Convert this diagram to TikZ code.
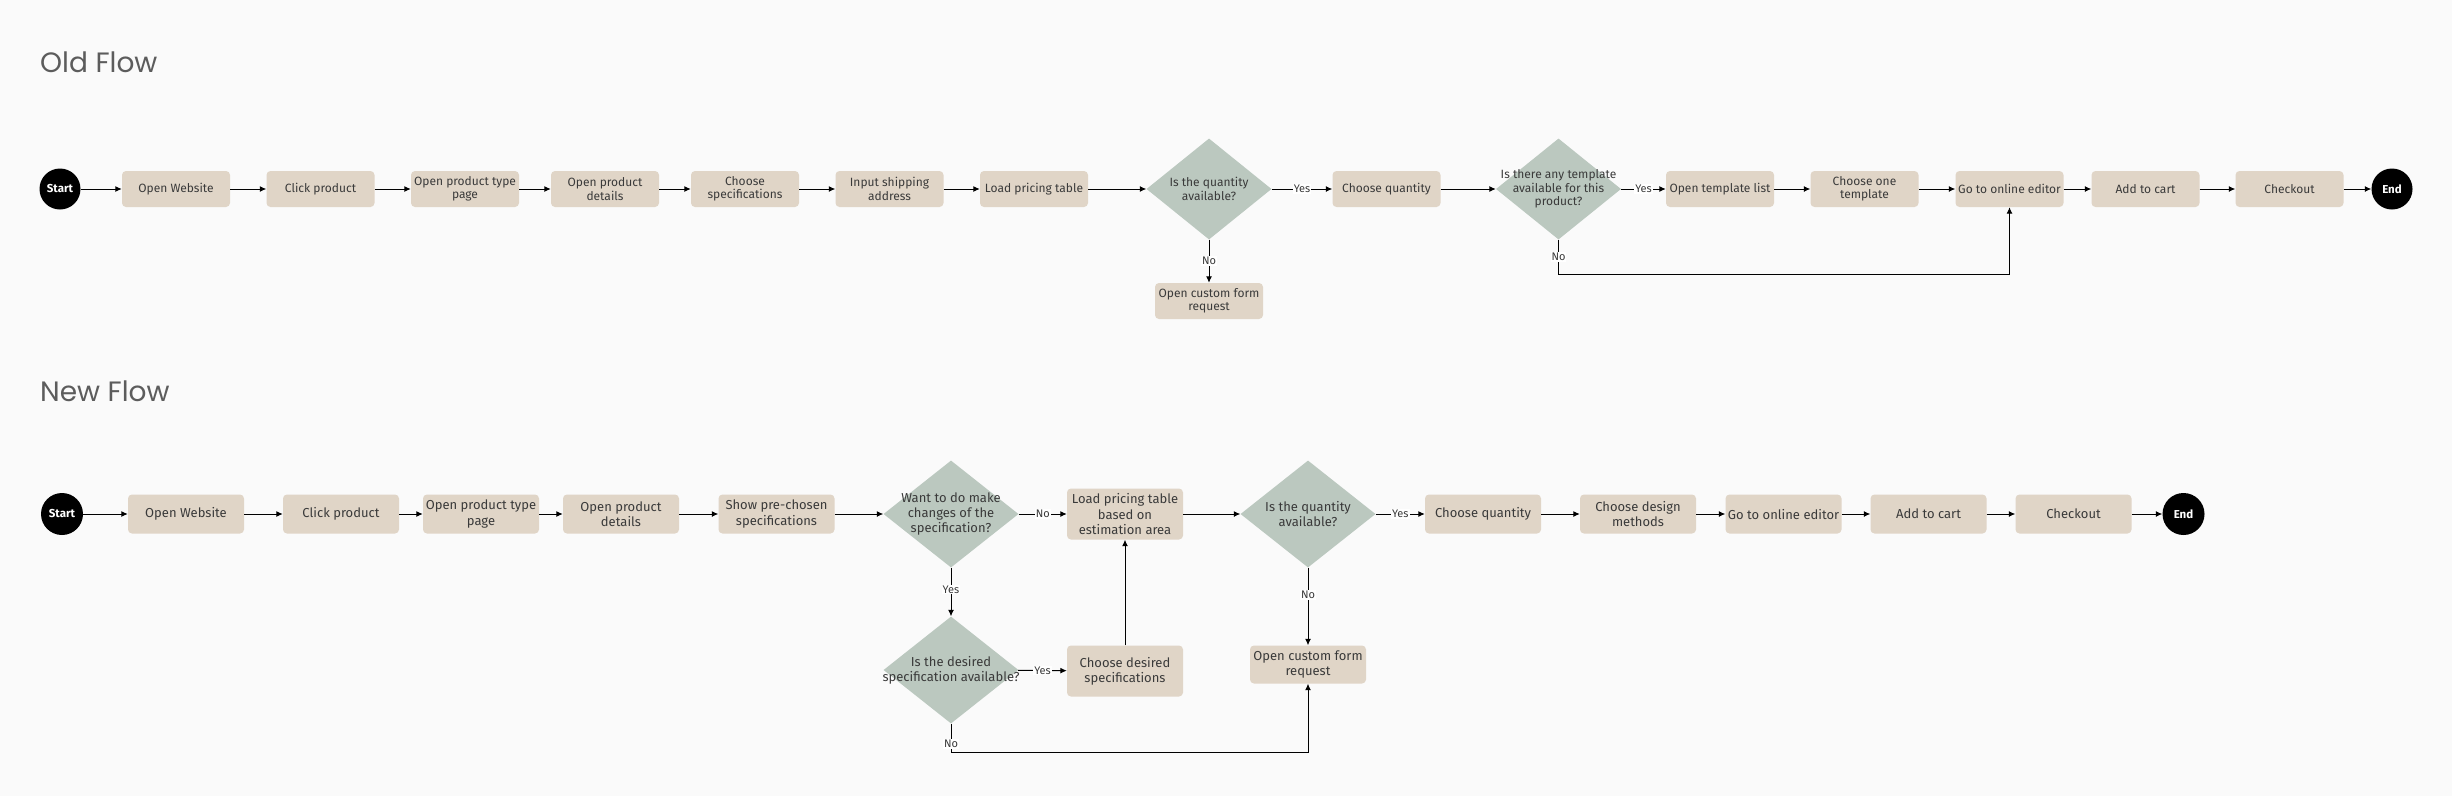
\documentclass[tikz,border=0pt]{standalone}
\usepackage{fontspec}
\setmainfont{Fira Sans}
\newfontfamily\titlefont{Poppins}
\usetikzlibrary{shapes.geometric,arrows.meta}

\definecolor{paper}{HTML}{FAFAFA}
\definecolor{beige}{HTML}{E0D5C7}
\definecolor{sage}{HTML}{BBC8BF}
\definecolor{ink}{HTML}{3A3A3A}
\definecolor{titlegray}{HTML}{5C5C5C}

\tikzset{
	oldstep/.style={rounded corners=4pt, fill=beige, minimum width=108pt, minimum height=36pt, inner sep=0pt, align=center, text=ink, font=\fontsize{12}{13.5}\selectfont},
	newstep/.style={oldstep, minimum width=116pt, minimum height=39pt, font=\fontsize{13}{15.3}\selectfont},
	olddecision/.style={diamond, fill=sage, inner sep=0pt, minimum width=125pt, minimum height=101pt},
	newdecision/.style={olddecision, minimum width=135pt, minimum height=107pt},
	olddtext/.style={align=center, inner sep=0pt, text=ink, font=\fontsize{12}{13.5}\selectfont},
	newdtext/.style={olddtext, font=\fontsize{13}{15}\selectfont},
	terminal/.style={circle, fill=black, text=white, minimum size=41pt, inner sep=0pt, font=\bfseries\fontsize{11.5}{12}\selectfont},
	lbl/.style={fill=white, inner sep=1pt, text=ink, font=\fontsize{11}{12}\selectfont},
	arrow/.style={line width=1pt, -{Latex[length=6.5pt,width=6pt]}},
	flowtitle/.style={anchor=base west, inner sep=0pt, text=titlegray, font=\titlefont\fontsize{28}{30}\selectfont}
}

\begin{document}
\begin{tikzpicture}[x=1pt,y=-1pt]
	\fill[paper] (0,0) rectangle (2452,796);

	% old flow
	\node[flowtitle] (oldtitle) at (40,72) {Old Flow};
	\node[terminal] (os) at (60,189) {Start};
	\node[oldstep] (ow) at (176,189) {Open Website};
	\node[oldstep] (oc) at (320.5,189) {Click product};
	\node[oldstep] (ot) at (465,189) {Open product type\\page};
	\node[oldstep] (od) at (605,189) {Open product\\details};
	\node[oldstep] (osp) at (745,189) {Choose\\specifications};
	\node[oldstep] (oa) at (889.5,189) {Input shipping\\address};
	\node[oldstep] (op) at (1034,189) {Load pricing table};
	\node[olddecision, label={[olddtext]center:Is the quantity\\available?}] (oq) at (1209,189) {};
	\node[oldstep] (oqc) at (1386.5,189) {Choose quantity};
	\node[olddecision, label={[olddtext]center:Is there any template\\available for this\\product?}] (otq) at (1558.5,189) {};
	\node[oldstep] (otl) at (1720,189) {Open template list};
	\node[oldstep] (oto) at (1864.5,189) {Choose one\\template};
	\node[oldstep] (oe) at (2009.5,189) {Go to online editor};
	\node[oldstep] (ocart) at (2145.5,189) {Add to cart};
	\node[oldstep] (ock) at (2289.5,189) {Checkout};
	\node[terminal] (oend) at (2392,189) {End};
	\node[oldstep] (ocf) at (1209,301) {Open custom form\\request};

	\draw[arrow] (os) -- (ow);
	\draw[arrow] (ow) -- (oc);
	\draw[arrow] (oc) -- (ot);
	\draw[arrow] (ot) -- (od);
	\draw[arrow] (od) -- (osp);
	\draw[arrow] (osp) -- (oa);
	\draw[arrow] (oa) -- (op);
	\draw[arrow] (op) -- (oq);
	\draw[arrow] (oq) -- node[lbl] {Yes} (oqc);
	\draw[arrow] (oq) -- node[lbl] {No} (ocf);
	\draw[arrow] (oqc) -- (otq);
	\draw[arrow] (otq) -- node[lbl] {Yes} (otl);
	\draw[arrow] (otq.south) -- node[lbl] {No} ++(0,34.5) -| (oe.south);
	\draw[arrow] (otl) -- (oto);
	\draw[arrow] (oto) -- (oe);
	\draw[arrow] (oe) -- (ocart);
	\draw[arrow] (ocart) -- (ock);
	\draw[arrow] (ock) -- (oend);

	% new flow
	\node[flowtitle] (newtitle) at (40,401) {New Flow};
	\node[terminal, minimum size=42pt] (ns) at (62,514) {Start};
	\node[newstep] (nw) at (186,514) {Open Website};
	\node[newstep] (nc) at (341,514) {Click product};
	\node[newstep] (nt) at (481,514) {Open product type\\page};
	\node[newstep] (nd) at (621,514) {Open product\\details};
	\node[newstep] (npc) at (776.5,514) {Show pre-chosen\\specifications};
	\node[newdecision, label={[newdtext]center:Want to do make\\changes of the\\specification?}] (nch) at (951,514) {};
	\node[newstep, minimum height=51pt] (np) at (1125,514) {Load pricing table\\based on\\estimation area};
	\node[newdecision, label={[newdtext]center:Is the quantity\\available?}] (nq) at (1308,514) {};
	\node[newstep] (nqc) at (1483,514) {Choose quantity};
	\node[newstep] (ndm) at (1638,514) {Choose design\\methods};
	\node[newstep] (ne) at (1783.5,514) {Go to online editor};
	\node[newstep] (ncart) at (1928.5,514) {Add to cart};
	\node[newstep] (nck) at (2073.5,514) {Checkout};
	\node[terminal, minimum size=42pt] (nend) at (2183.5,514) {End};
	\node[newdecision, label={[newdtext]center:Is the desired\\specification available?}] (nav) at (951,670) {};
	\node[newstep, minimum height=51pt] (nds) at (1125,671) {Choose desired\\specifications};
	\node[newstep, minimum height=38pt] (ncf) at (1308,664.5) {Open custom form\\request};

	\draw[arrow] (ns) -- (nw);
	\draw[arrow] (nw) -- (nc);
	\draw[arrow] (nc) -- (nt);
	\draw[arrow] (nt) -- (nd);
	\draw[arrow] (nd) -- (npc);
	\draw[arrow] (npc) -- (nch);
	\draw[arrow] (nch) -- node[lbl] {No} (np);
	\draw[arrow] (nch) -- node[lbl, pos=0.45] {Yes} (nav);
	\draw[arrow] (nav) -- node[lbl] {Yes} (nds);
	\draw[arrow] (nds) -- (np);
	\draw[arrow] (nav.south) -- node[lbl, pos=0.7] {No} ++(0,28.5) -| (ncf.south);
	\draw[arrow] (np) -- (nq);
	\draw[arrow] (nq) -- node[lbl] {Yes} (nqc);
	\draw[arrow] (nq) -- node[lbl, pos=0.35] {No} (ncf);
	\draw[arrow] (nqc) -- (ndm);
	\draw[arrow] (ndm) -- (ne);
	\draw[arrow] (ne) -- (ncart);
	\draw[arrow] (ncart) -- (nck);
	\draw[arrow] (nck) -- (nend);
\end{tikzpicture}
\end{document}
